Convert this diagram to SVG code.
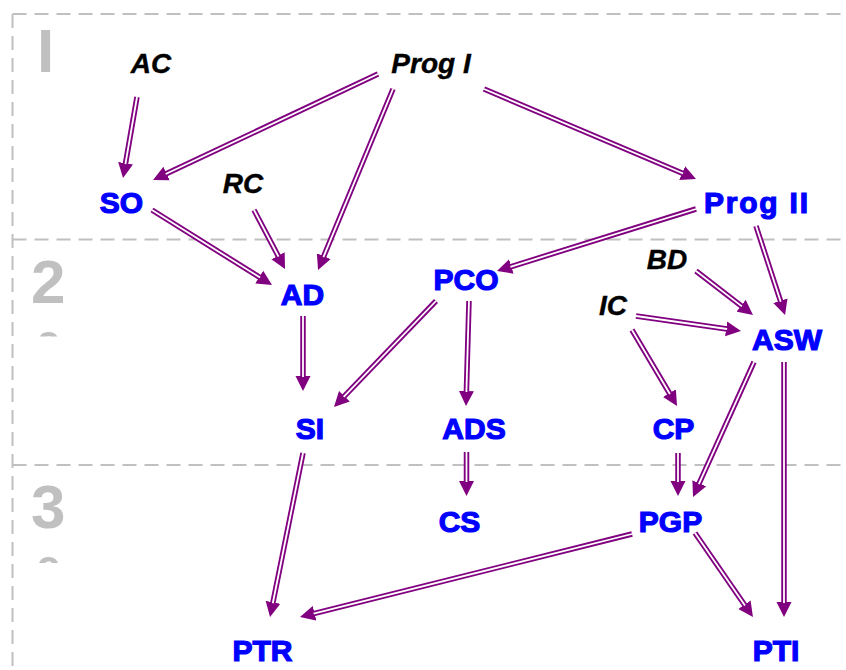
<svg xmlns="http://www.w3.org/2000/svg" width="846" height="670" viewBox="0 0 846 670">
<style>
.grid{stroke:#c0c0c0;stroke-width:2;stroke-dasharray:14 8;fill:none}
.big{font-family:"Liberation Sans",Arial,sans-serif;font-weight:bold;font-size:62px;fill:#c0c0c0}
.n{font-family:"Liberation Sans",Arial,sans-serif;font-weight:bold;font-size:30px;fill:#0000ff;stroke:#0000ff;stroke-width:1.2;text-anchor:middle}
.x{font-family:"Liberation Sans",Arial,sans-serif;font-weight:bold;font-style:italic;font-size:28px;fill:#000;stroke:#000;stroke-width:0.4;text-anchor:middle}
.o{stroke:#800080;stroke-width:5.5;fill:none;marker-end:url(#ah)}
.i{stroke:#fff;stroke-width:1.8;fill:none}
</style>
<defs>
<marker id="ah" markerUnits="userSpaceOnUse" markerWidth="16" markerHeight="16" viewBox="0 -8 16 16" refX="1" refY="0" orient="auto">
<path d="M0,-7.5 L15,0 L0,7.5 z" fill="#800080"/>
</marker>
<clipPath id="c2"><rect x="0" y="300" width="120" height="36.5"/></clipPath>
<clipPath id="c3"><rect x="0" y="530" width="120" height="33"/></clipPath>
</defs>
<rect width="846" height="670" fill="#fff"/>
<g id="grid">
<path class="grid" d="M12.5,14 H846 M12.5,14 V670 M12.5,239.5 H846 M12.5,465 H846"/>
<text class="big" x="37" y="72">I</text>
<text class="big" x="31" y="303">2</text>
<text class="big" x="37" y="375" clip-path="url(#c2)">º</text>
<text class="big" x="31" y="528">3</text>
<text class="big" x="37" y="600" clip-path="url(#c3)">º</text>
</g>
<g id="connectors">
<path class="o" d="M137,97 L125.4,164.2"/><path class="i" d="M137,97 L125.4,164.2"/>
<path class="o" d="M378,74 L165.7,174"/><path class="i" d="M378,74 L165.7,174"/>
<path class="o" d="M393,89 L323.4,257.1"/><path class="i" d="M393,89 L323.4,257.1"/>
<path class="o" d="M484,89 L683.1,173.5"/><path class="i" d="M484,89 L683.1,173.5"/>
<path class="o" d="M152,210 L260.1,277.6"/><path class="i" d="M152,210 L260.1,277.6"/>
<path class="o" d="M254,210 L278.5,256.6"/><path class="i" d="M254,210 L278.5,256.6"/>
<path class="o" d="M303,316 L303,377"/><path class="i" d="M303,316 L303,377"/>
<path class="o" d="M436,301 L343.7,396.9"/><path class="i" d="M436,301 L343.7,396.9"/>
<path class="o" d="M696,209 L510.4,266.8"/><path class="i" d="M696,209 L510.4,266.8"/>
<path class="o" d="M469,301 L466.4,392"/><path class="i" d="M469,301 L466.4,392"/>
<path class="o" d="M466.5,452 L466.5,482"/><path class="i" d="M466.5,452 L466.5,482"/>
<path class="o" d="M756,226 L780.7,301.7"/><path class="i" d="M756,226 L780.7,301.7"/>
<path class="o" d="M696,271 L741.9,306.4"/><path class="i" d="M696,271 L741.9,306.4"/>
<path class="o" d="M636,316 L727.1,329"/><path class="i" d="M636,316 L727.1,329"/>
<path class="o" d="M632,330 L669.9,394"/><path class="i" d="M632,330 L669.9,394"/>
<path class="o" d="M678,453 L678,482"/><path class="i" d="M678,453 L678,482"/>
<path class="o" d="M754,362 L698.8,484.2"/><path class="i" d="M754,362 L698.8,484.2"/>
<path class="o" d="M784,362 L784,603"/><path class="i" d="M784,362 L784,603"/>
<path class="o" d="M695,533 L745,605.5"/><path class="i" d="M695,533 L745,605.5"/>
<path class="o" d="M632,534 L313.6,613.6"/><path class="i" d="M632,534 L313.6,613.6"/>
<path class="o" d="M303,453 L272.8,603.3"/><path class="i" d="M303,453 L272.8,603.3"/>
</g>
<g id="AC"><text class="x" x="151" y="73">AC</text></g>
<g id="ProgI"><text class="x" x="431" y="73">Prog I</text></g>
<g id="RC"><text class="x" x="243" y="193">RC</text></g>
<g id="BD"><text class="x" x="667" y="269">BD</text></g>
<g id="IC"><text class="x" x="613" y="315">IC</text></g>
<g id="SO"><text class="n" x="121.5" y="213">SO</text></g>
<g id="ProgII"><text class="n" x="756" y="213" textLength="104">Prog II</text></g>
<g id="AD"><text class="n" x="302.5" y="305">AD</text></g>
<g id="PCO"><text class="n" x="466" y="290">PCO</text></g>
<g id="ASW"><text class="n" x="787" y="350">ASW</text></g>
<g id="SI"><text class="n" x="310" y="439">SI</text></g>
<g id="ADS"><text class="n" x="474" y="439">ADS</text></g>
<g id="CP"><text class="n" x="673.5" y="439">CP</text></g>
<g id="CS"><text class="n" x="459.5" y="532">CS</text></g>
<g id="PGP"><text class="n" x="670.5" y="532">PGP</text></g>
<g id="PTR"><text class="n" x="262.5" y="661">PTR</text></g>
<g id="PTI"><text class="n" x="776" y="661">PTI</text></g>
</svg>
